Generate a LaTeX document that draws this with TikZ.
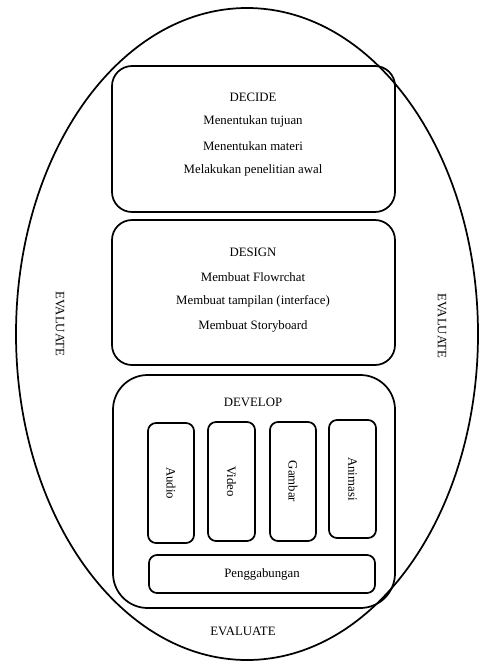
\documentclass[tikz,border=0pt]{standalone}
\usepackage{fontspec}
\setmainfont{Liberation Serif}
\usetikzlibrary{shapes.geometric}
\begin{document}
\begin{tikzpicture}[x=0.75pt,y=-0.75pt,
  outline/.style={draw=black, line width=1.3pt, fill=none, inner sep=0pt},
  stagebox/.style={outline, rounded corners=15pt},
  devbox/.style={outline, rounded corners=26pt},
  mediabox/.style={outline, rounded corners=6pt},
  label/.style={font=\fontsize{9.6}{11}\selectfont, inner sep=0pt},
  vlabel/.style={label, rotate=-90}]
  \useasboundingbox (0,0) rectangle (480,664);

  % outer evaluation ring
  \node[outline, ellipse, minimum width=346.5pt, minimum height=489pt] (ring) at (247,334) {};

  % decide stage
  \node[stagebox, minimum width=212.25pt, minimum height=109.5pt] (decide) at (253.5,139) {};
  \node[label] (decideT) at (253,97) {DECIDE};
  \node[label] (d1) at (253,121) {Menentukan tujuan};
  \node[label] (d2) at (253,146) {Menentukan materi};
  \node[label] (d3) at (253,170) {Melakukan penelitian awal};

  % design stage
  \node[stagebox, minimum width=212.25pt, minimum height=108.75pt] (design) at (253.5,292.5) {};
  \node[label] (designT) at (253,252) {DESIGN};
  \node[label] (s1) at (253,277) {Membuat Flowrchat};
  \node[label] (s2) at (253,301) {Membuat tampilan (interface)};
  \node[label] (s3) at (253,326) {Membuat Storyboard};

  % develop stage
  \node[devbox, minimum width=211.5pt, minimum height=174.75pt] (develop) at (254,491.5) {};
  \node[label] (developT) at (253,402) {DEVELOP};
  \node[mediabox, minimum width=34.5pt, minimum height=90pt] (audio) at (171,483) {};
  \node[vlabel] at (audio.center) {Audio};
  \node[mediabox, minimum width=35.25pt, minimum height=89.25pt] (video) at (231.5,481.5) {};
  \node[vlabel] at (video.center) {Video};
  \node[mediabox, minimum width=34.5pt, minimum height=89.25pt] (gambar) at (293,481.5) {};
  \node[vlabel] at (gambar.center) {Gambar};
  \node[mediabox, minimum width=35.25pt, minimum height=88.5pt] (animasi) at (352.5,479) {};
  \node[vlabel] at (animasi.center) {Animasi};
  \node[mediabox, minimum width=169.5pt, minimum height=28.5pt] (gabung) at (262,574) {};
  \node[label] at (gabung.center) {Penggabungan};

  % evaluation labels
  \node[vlabel] (evalL) at (60,324) {EVALUATE};
  \node[vlabel] (evalR) at (442,326) {EVALUATE};
  \node[label] (evalB) at (243,631) {EVALUATE};
\end{tikzpicture}
\end{document}
